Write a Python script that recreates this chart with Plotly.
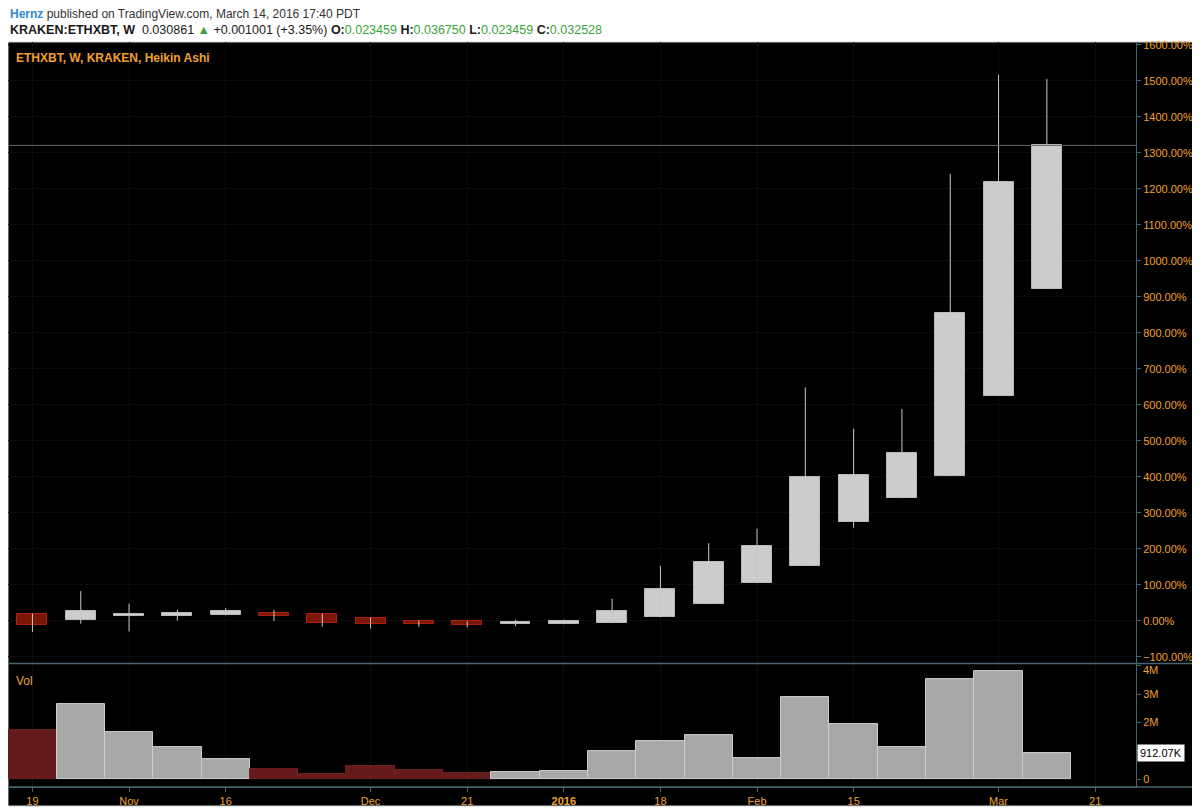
import plotly.graph_objects as go

# weekly Heikin Ashi candles, % change scale
weeks = ['2015-10-19', '2015-10-26', '2015-11-02', '2015-11-09', '2015-11-16', '2015-11-23',
         '2015-11-30', '2015-12-07', '2015-12-14', '2015-12-21', '2015-12-28', '2016-01-04',
         '2016-01-11', '2016-01-18', '2016-01-25', '2016-02-01', '2016-02-08', '2016-02-15',
         '2016-02-22', '2016-02-29', '2016-03-07', '2016-03-14']
ha_open = [20, 2, 13, 15, 17.6, 23, 20, 9, 1, -1, -9, -9,
           -6, 10, 47, 105, 154, 275, 341, 403, 625, 923]
ha_high = [20, 83, 48, 31, 36, 31, 20, 9, 1, -1, 3, 3.6,
           62, 153, 216, 256, 649, 534, 589, 1242, 1517, 1506]
ha_low = [-31, -7.5, -29, 1, 15.8, 0, -16, -21, -16, -17.5, -14, -9,
          -6, 10, 47, 105, 154, 259, 341, 403, 625, 923]
ha_close = [-12, 28, 20, 21, 27.8, 15, -5, -9, -9, -12, -3.6, -1,
            29, 88, 163, 207, 399, 405, 467, 855, 1220, 1321]
volume = [1.74e6, 2.65e6, 1.67e6, 1.13e6, 0.70e6, 0.35e6, 0.19e6, 0.47e6, 0.32e6, 0.22e6, 0.25e6, 0.29e6,
          1.01e6, 1.35e6, 1.56e6, 0.74e6, 2.91e6, 1.95e6, 1.12e6, 3.54e6, 3.82e6, 0.91207e6]

tick_dates = ['2015-10-19', '2015-11-02', '2015-11-16', '2015-12-07', '2015-12-21', '2016-01-04',
              '2016-01-18', '2016-02-01', '2016-02-15', '2016-03-07', '2016-03-21']
tick_text = ['19', 'Nov', '16', 'Dec', '21', '<b>2016</b>', '18', 'Feb', '15', 'Mar', '21']
vol_ticks = [0, 1e6, 2e6, 3e6, 4e6]
# 1M sits behind the last-volume tag, 4M is placed by hand just under the pane border
vol_text = ['0', '', '2M', '3M', '']

orange = '#f0a030'
axis_col = '#46656f'
green = '#3aa53a'

up = [c >= o for o, c in zip(ha_open, ha_close)]
body_base = [min(o, c) for o, c in zip(ha_open, ha_close)]
body_h = [abs(c - o) for o, c in zip(ha_open, ha_close)]
body_fill = ['#cccccc' if u else '#7a1608' for u in up]
body_line = ['#b9b9b9' if u else '#a8230f' for u in up]
vol_fill = ['#a8a8a8' if u else '#661b1b' for u in up]
vol_line = ['#cdcdcd' if u else '#6f2020' for u in up]

wick_x, wick_y = [], []
for d, lo, hi in zip(weeks, ha_low, ha_high):
    wick_x += [d, d, None]
    wick_y += [lo, hi, None]

week_ms = 7 * 24 * 3600 * 1000

fig = go.Figure()
fig.add_trace(go.Scatter(x=wick_x, y=wick_y, mode='lines',
                         line=dict(color='#c8c8c8', width=1), hoverinfo='skip', showlegend=False))
fig.add_trace(go.Bar(x=weeks, y=body_h, base=body_base, width=week_ms * 0.62,
                     marker=dict(color=body_fill, line=dict(color=body_line, width=1)),
                     showlegend=False))
fig.add_trace(go.Bar(x=weeks, y=volume, yaxis='y2', width=week_ms,
                     marker=dict(color=vol_fill, line=dict(color=vol_line, width=1)),
                     showlegend=False))

# page pixel -> paper coords (plot area on the page: x 8..1136, y 42..787)
def px(X):
    return (X - 8) / 1128

def py(Y):
    return (787 - Y) / 745

# the page body adds an 8px margin, so the figure itself is 1192x804
fig.update_layout(
    width=1192, height=804,
    margin=dict(l=0, r=64, t=34, b=25),
    paper_bgcolor='white',
    plot_bgcolor='black',
    barmode='overlay',
    bargap=0,
    font=dict(family='Liberation Sans, Arial, sans-serif', size=11, color=orange),
    xaxis=dict(
        type='date',
        range=['2015-10-15 11:00', '2016-03-26 22:00'],
        anchor='y2',
        tickvals=tick_dates, ticktext=tick_text,
        ticks='outside', ticklen=4, tickcolor=axis_col,
        showline=True, linecolor=axis_col,
        showgrid=True, gridcolor='#0c0c0d',
        zeroline=False,
        tickfont=dict(color=orange, size=11),
    ),
    yaxis=dict(
        domain=[0.1665, 1],
        range=[-116.7, 1608.3],
        side='right',
        dtick=100, tickformat='.2f', ticksuffix='%',
        ticks='outside', ticklen=4, tickcolor=axis_col,
        showline=True, linecolor=axis_col,
        showgrid=True, gridcolor='#0c0c0d',
        zeroline=False,
        tickfont=dict(color=orange, size=11),
    ),
    yaxis2=dict(
        domain=[0, 0.165],
        range=[-0.271e6, 4.056e6],
        side='right',
        tickvals=vol_ticks, ticktext=vol_text,
        ticks='outside', ticklen=4, tickcolor=axis_col,
        showline=True, linecolor=axis_col,
        showgrid=False, zeroline=False,
        tickfont=dict(color=orange, size=11),
    ),
    shapes=[
        # black chart frame incl. axis strip
        dict(type='rect', xref='paper', yref='paper', x0=0, x1=px(1193), y0=py(806), y1=1,
             fillcolor='black', line=dict(color='#c9d3da', width=1), layer='below'),
        # pane separator and bottom axis line across the full frame
        dict(type='line', xref='paper', yref='paper', x0=0, x1=px(1193), y0=py(663.5), y1=py(663.5),
             line=dict(color=axis_col, width=1.5)),
        dict(type='line', xref='paper', yref='paper', x0=0, x1=px(1193), y0=0, y1=0,
             line=dict(color=axis_col, width=1.5)),
        # last price line
        dict(type='line', xref='paper', yref='y', x0=0, x1=1, y0=ha_close[-1], y1=ha_close[-1],
             line=dict(color='#5c676e', width=1)),
    ],
    annotations=[
        dict(xref='paper', yref='paper', x=px(8), y=py(14), xanchor='left', yanchor='middle',
             showarrow=False,
             text='<b><span style="color:#2f8bcc">Hernz</span></b> published on TradingView.com, March 14, 2016 17:40 PDT',
             font=dict(family='Liberation Sans, Arial, sans-serif', size=12, color='#333333')),
        dict(xref='paper', yref='paper', x=px(8), y=py(30), xanchor='left', yanchor='middle',
             showarrow=False,
             text=('<b>KRAKEN:ETHXBT, W</b>  0.030861 <span style="color:%s">▲</span> +0.001001 (+3.35%%) '
                   '<b>O:</b><span style="color:%s">0.023459</span> <b>H:</b><span style="color:%s">0.036750</span> '
                   '<b>L:</b><span style="color:%s">0.023459</span> <b>C:</b><span style="color:%s">0.032528</span>')
                  % (green, green, green, green, green),
             font=dict(family='Liberation Sans, Arial, sans-serif', size=12.5, color='#1a1a1a')),
        dict(xref='paper', yref='paper', x=px(14), y=py(58), xanchor='left', yanchor='middle',
             showarrow=False, text='<b>ETHXBT, W, KRAKEN, Heikin Ashi</b>',
             font=dict(size=12, color=orange)),
        dict(xref='paper', yref='paper', x=px(14), y=py(681), xanchor='left', yanchor='middle',
             showarrow=False, text='Vol', font=dict(size=12, color=orange)),
        dict(xref='paper', yref='y2', x=px(1141), y=vol_ticks[-1], yshift=-4, xanchor='left',
             yanchor='middle', showarrow=False, text='4M', font=dict(size=11, color=orange)),
        dict(xref='paper', yref='y2', x=px(1137), y=volume[-1], xanchor='left', yanchor='middle',
             showarrow=False, text='912.07K', bgcolor='white', borderpad=2,
             font=dict(size=11, color='black')),
    ],
)

fig.write_html("out.html")
